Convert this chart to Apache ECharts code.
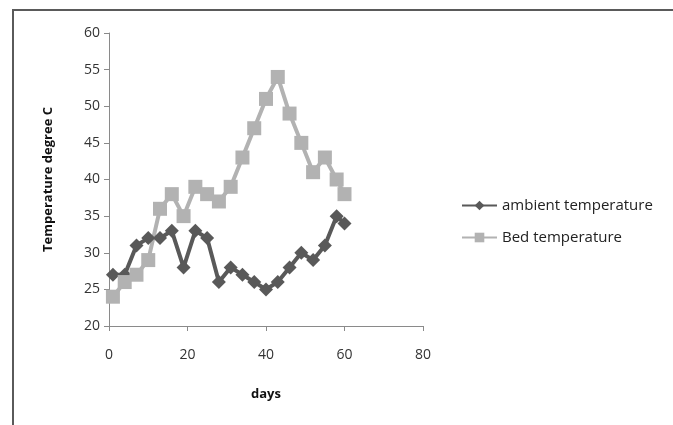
<!DOCTYPE html>
<html>
<head>
<meta charset="utf-8">
<title>Temperature</title>
<script src="https://cdn.jsdelivr.net/npm/echarts@6/dist/echarts.min.js"></script>
<style>
  html, body { margin: 0; padding: 0; background: #fff; }
  #chart { width: 673px; height: 425px; }
</style>
</head>
<body>
<div id="chart"></div>
<script>
// days of measurement
const days = [1, 4, 7, 10, 13, 16, 19, 22, 25, 28, 31, 34, 37, 40, 43, 46, 49, 52, 55, 58, 60]
// readings (degree C)
const ambientTemp = [27, 27, 31, 32, 32, 33, 28, 33, 32, 26, 28, 27, 26, 25, 26, 28, 30, 29, 31, 35, 34]
const bedTemp = [24, 26, 27, 29, 36, 38, 35, 39, 38, 37, 39, 43, 47, 51, 54, 49, 45, 41, 43, 40, 38]

const pairs = (ys) => days.map((d, i) => [d, ys[i]])

const labelFont = 'Open Sans, Liberation Sans, sans-serif'

const chart = echarts.init(document.getElementById('chart'))
chart.setOption({
  animation: false,
  textStyle: { fontFamily: labelFont },
  graphic: [
    { // outer frame, only left and top edges visible
      type: 'polyline',
      shape: { points: [[13, 425], [13, 10], [673, 10]] },
      style: { stroke: '#5a5a5a', lineWidth: 2, fill: null }
    }
  ],
  grid: { left: 109, right: 250, top: 33, bottom: 99 },
  legend: {
    orient: 'vertical',
    left: 456,
    top: 193,
    itemGap: 17,
    itemWidth: 35,
    itemHeight: 12,
    textStyle: { fontSize: 15, color: '#222', fontFamily: labelFont },
    data: ['ambient temperature', 'Bed temperature']
  },
  xAxis: {
    type: 'value',
    min: 0,
    max: 80,
    interval: 20,
    name: 'days',
    nameLocation: 'middle',
    nameGap: 62,
    nameTextStyle: { fontWeight: 'bold', fontSize: 13, color: '#111' },
    axisLine: { lineStyle: { color: '#8a8a8a', width: 1 } },
    axisTick: { show: true, length: 5, lineStyle: { color: '#8a8a8a' } },
    axisLabel: { fontSize: 14, color: '#333', margin: 22 },
    splitLine: { show: false }
  },
  yAxis: {
    type: 'value',
    min: 20,
    max: 60,
    interval: 5,
    name: 'Temperature degree C',
    nameLocation: 'middle',
    nameGap: 54,
    nameTextStyle: { fontWeight: 'bold', fontSize: 13, color: '#111' },
    axisLine: { show: true, lineStyle: { color: '#8a8a8a', width: 1 } },
    axisTick: { show: true, length: 5, lineStyle: { color: '#8a8a8a' } },
    axisLabel: { fontSize: 14, color: '#333', margin: 9 },
    splitLine: { show: false }
  },
  series: [
    {
      name: 'ambient temperature',
      type: 'line',
      data: pairs(ambientTemp),
      symbol: 'diamond',
      symbolSize: 14,
      itemStyle: { color: '#595959' },
      lineStyle: { color: '#595959', width: 4 }
    },
    {
      name: 'Bed temperature',
      type: 'line',
      data: pairs(bedTemp),
      symbol: 'rect',
      symbolSize: 14,
      itemStyle: { color: '#b2b2b2' },
      lineStyle: { color: '#b2b2b2', width: 4 }
    }
  ]
})
</script>
</body>
</html>
